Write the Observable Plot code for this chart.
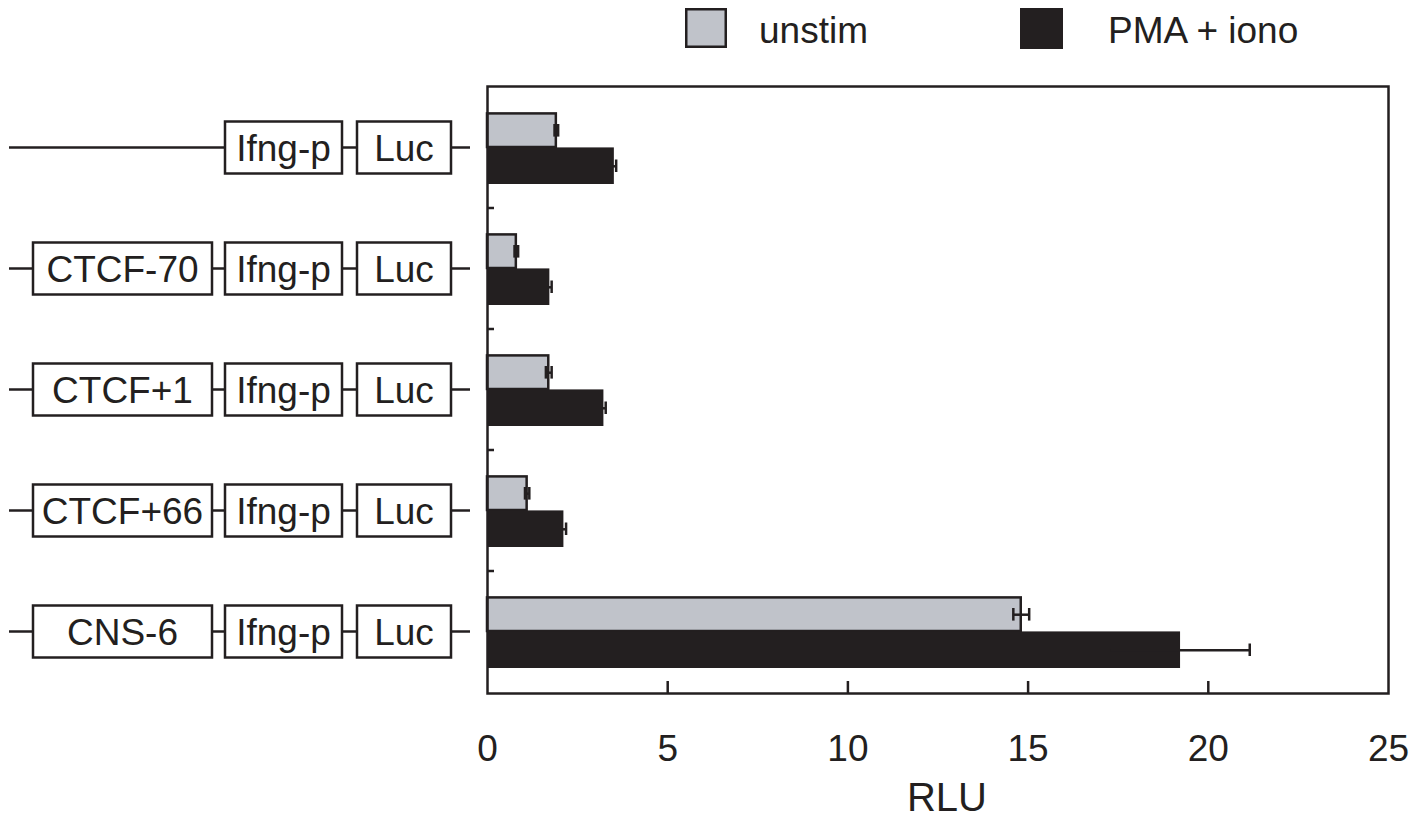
<!DOCTYPE html>
<html>
<head>
<meta charset="utf-8">
<script src="https://cdn.jsdelivr.net/npm/d3@7"></script>
<script src="https://cdn.jsdelivr.net/npm/@observablehq/plot@0.6"></script>
<style>
  html, body { margin: 0; padding: 0; background: #fff; overflow: hidden; }
  #legend { display: block; }
  #chart svg { display: block; }
</style>
</head>
<body>
<svg id="legend" width="1427" height="60"></svg>
<div id="chart"></div>
<script>
// ---- data ----
const constructs = ["Ifng-p-Luc", "CTCF-70-Ifng-p-Luc", "CTCF+1-Ifng-p-Luc", "CTCF+66-Ifng-p-Luc", "CNS-6-Ifng-p-Luc"];
const enhancerLabels = ["", "CTCF-70", "CTCF+1", "CTCF+66", "CNS-6"];
const promoterLabel = "Ifng-p";
const reporterLabel = "Luc";
const seriesNames = ["unstim", "PMA + iono"];
const unstim = [1.91, 0.80, 1.70, 1.10, 14.81];
const unstimErr = [0.05, 0.05, 0.08, 0.06, 0.22];
const pma = [3.52, 1.73, 3.23, 2.12, 19.23];
const pmaErr = [0.05, 0.05, 0.05, 0.06, 1.92];
const xTicks = [0, 5, 10, 15, 20, 25];
const innerTicks = [5, 10, 15, 20];
const xLabel = "RLU";

// ---- styles ----
const DARK = "#231f20";
const GRAY = "#c0c3ca";
const FONT = "'Liberation Sans', Arial, Helvetica, sans-serif";

const unstimRows = constructs.map((c, i) => ({construct: c, series: seriesNames[0], value: unstim[i], err: unstimErr[i]}));
const pmaRows = constructs.map((c, i) => ({construct: c, series: seriesNames[1], value: pma[i], err: pmaErr[i]}));

const W = 1427, H = 758;
const mTop = 26, mBottom = 125, mLeft = 487, mRight = 39;

const plot = Plot.plot({
  width: W,
  height: H,
  marginTop: mTop,
  marginBottom: mBottom,
  marginLeft: mLeft,
  marginRight: mRight,
  style: {fontFamily: FONT, color: DARK, background: "white"},
  x: {domain: [0, 25]},
  y: {domain: constructs, padding: 0, axis: null},
  marks: [
    Plot.barX(unstimRows, {x: "value", y: "construct", fill: GRAY, stroke: DARK, strokeWidth: 2.5, insetTop: 26.4, insetBottom: 61}),
    Plot.barX(pmaRows, {x: "value", y: "construct", fill: DARK, insetTop: 60.4, insetBottom: 24}),
    // error bars
    Plot.ruleY(unstimRows, {y: "construct", x1: d => d.value - d.err, x2: d => d.value + d.err, dy: -17.3, stroke: DARK, strokeWidth: 2.5}),
    Plot.tickX(unstimRows, {x: d => d.value + d.err, y: "construct", insetTop: 37, insetBottom: 71.4, stroke: DARK, strokeWidth: 2.5}),
    Plot.tickX(unstimRows, {x: d => d.value - d.err, y: "construct", insetTop: 37, insetBottom: 71.4, stroke: DARK, strokeWidth: 2.5}),
    Plot.ruleY(pmaRows, {y: "construct", x1: d => d.value - d.err, x2: d => d.value + d.err, dy: 18.3, stroke: DARK, strokeWidth: 2.5}),
    Plot.tickX(pmaRows, {x: d => d.value + d.err, y: "construct", insetTop: 72.5, insetBottom: 36, stroke: DARK, strokeWidth: 2.5}),
    // inward x ticks
    Plot.tickX(innerTicks, {x: d => d, insetTop: 607 - 12, stroke: DARK, strokeWidth: 2.5}),
    Plot.frame({stroke: DARK, strokeWidth: 2.5}),
    Plot.axisX({ticks: xTicks, tickSize: 0, tickPadding: 41, fontSize: 37, label: null, tickFormat: d => String(d)}),
    Plot.text([xLabel], {frameAnchor: "bottom", dy: 117, lineAnchor: "bottom", fontSize: 40, fill: DARK, dx: 9})
  ]
});

document.getElementById("chart").appendChild(plot);

// ---- construct diagrams & band-boundary ticks, positioned with Plot's y scale ----
const yScale = plot.scale("y");
const bw = yScale.bandwidth;
const svg = d3.select(plot);
const g = svg.append("g").attr("font-family", FONT).attr("font-size", 37).attr("fill", DARK);

// left-side ticks at band boundaries
constructs.slice(1).forEach(c => {
  const y = yScale.apply(c);
  g.append("line").attr("x1", mLeft).attr("x2", mLeft + 7).attr("y1", y).attr("y2", y)
    .attr("stroke", DARK).attr("stroke-width", 2.5);
});

const boxH = 52;
const enhBox = [33, 212], proBox = [225, 342], lucBox = [357, 451];
constructs.forEach((c, i) => {
  const cy = yScale.apply(c) + bw / 2;
  g.append("line").attr("x1", 9).attr("x2", 470).attr("y1", cy).attr("y2", cy)
    .attr("stroke", DARK).attr("stroke-width", 2.5);
  const boxes = [];
  if (enhancerLabels[i]) boxes.push([enhBox, enhancerLabels[i]]);
  boxes.push([proBox, promoterLabel]);
  boxes.push([lucBox, reporterLabel]);
  boxes.forEach(([b, label]) => {
    g.append("rect").attr("x", b[0]).attr("y", cy - boxH / 2).attr("width", b[1] - b[0]).attr("height", boxH)
      .attr("fill", "white").attr("stroke", DARK).attr("stroke-width", 2.5);
    g.append("text").attr("x", (b[0] + b[1]) / 2).attr("y", cy).attr("dy", "0.37em")
      .attr("text-anchor", "middle").text(label);
  });
});

// ---- legend ----
const leg = d3.select("#legend").attr("font-family", FONT).attr("font-size", 37);
leg.append("rect").attr("x", 686.25).attr("y", 9.25).attr("width", 39.5).attr("height", 37.5)
  .attr("fill", GRAY).attr("stroke", DARK).attr("stroke-width", 2.5);
leg.append("text").attr("x", 759).attr("y", 43).attr("fill", DARK).text(seriesNames[0]);
leg.append("rect").attr("x", 1020).attr("y", 8).attr("width", 43).attr("height", 41).attr("fill", DARK);
leg.append("text").attr("x", 1108).attr("y", 43).attr("fill", DARK).text(seriesNames[1]);
</script>
</body>
</html>
